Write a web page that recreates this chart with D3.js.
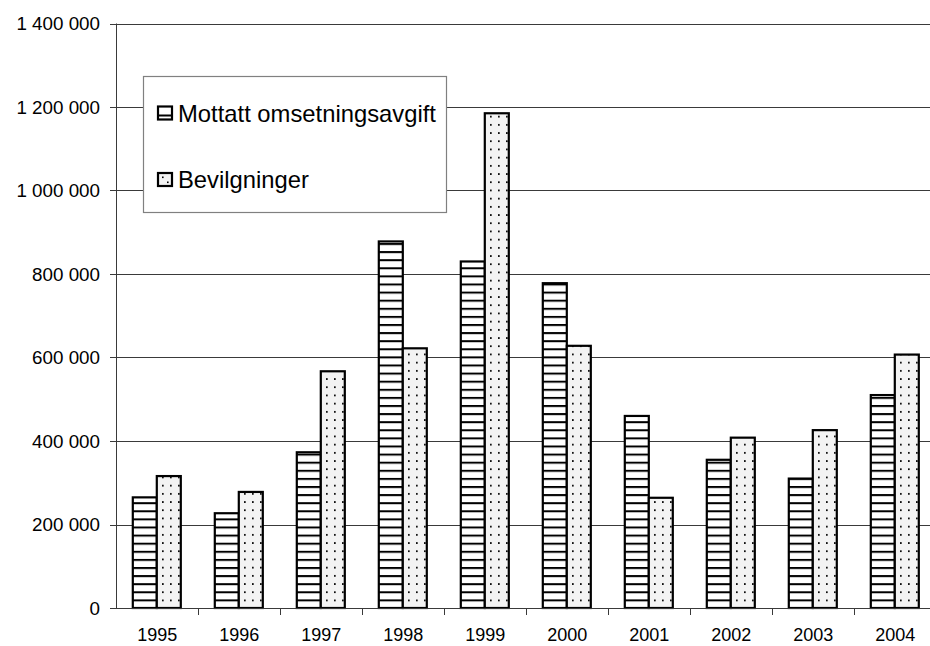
<!DOCTYPE html>
<html>
<head>
<meta charset="utf-8">
<script src="https://cdn.jsdelivr.net/npm/d3@7"></script>
<style>
  html, body { margin: 0; padding: 0; background: #fff; overflow: hidden; }
  svg { display: block; font-family: "Liberation Sans", Arial, sans-serif; }
</style>
</head>
<body>
<svg id="chart" width="930" height="646"></svg>
<script>
const years = ["1995","1996","1997","1998","1999","2000","2001","2002","2003","2004"];
const seriesNames = ["Mottatt omsetningsavgift", "Bevilgninger"];
const mottatt = [265000, 227000, 373000, 878000, 830000, 778000, 460000, 355000, 310000, 510000];
const bevilgninger = [316000, 278000, 567000, 622000, 1185000, 628000, 264000, 408000, 426000, 607000];
const yTicks = [0, 200000, 400000, 600000, 800000, 1000000, 1200000, 1400000];

const svg = d3.select("#chart");
const defs = svg.append("defs");

// Horizontal hatch pattern
const ph = defs.append("pattern").attr("id", "hatch")
  .attr("patternUnits", "userSpaceOnUse").attr("width", 8).attr("height", 8.1);
ph.append("rect").attr("width", 8).attr("height", 8.1).attr("fill", "#fff");
ph.append("rect").attr("x", 0).attr("y", 0).attr("width", 8).attr("height", 2).attr("fill", "#000");

// Dotted pattern
const pd = defs.append("pattern").attr("id", "dots")
  .attr("patternUnits", "userSpaceOnUse").attr("width", 8).attr("height", 8.2)
  .attr("x", 2.7).attr("y", 0);
pd.append("rect").attr("width", 8).attr("height", 8.2).attr("fill", "#f3f3f3");
pd.append("rect").attr("x", 3).attr("y", 1).attr("width", 1.7).attr("height", 1.7).attr("fill", "#000");

const seriesData = [mottatt, bevilgninger];
const fills = ["url(#hatch)", "url(#dots)"];

const x0 = d3.scaleBand().domain(years).range([116.3, 936.3]).paddingInner(0).paddingOuter(0);
const x1 = d3.scaleBand().domain([0, 1]).range([16.5, 64.5]);
const y = d3.scaleLinear().domain([0, 1400000]).range([608, 23.5]);

const fmt = v => d3.format(",")(v).replace(/,/g, " ");

// Gridlines
svg.append("g").selectAll("line").data(yTicks.filter(d => d > 0)).join("line")
  .attr("x1", 116).attr("x2", 930)
  .attr("y1", d => Math.round(y(d)) + 0.5).attr("y2", d => Math.round(y(d)) + 0.5)
  .attr("stroke", "#3a3a3a").attr("stroke-width", 1);

// Bars
const groups = svg.append("g").selectAll("g").data(years).join("g")
  .attr("transform", d => `translate(${x0(d)},0)`);
groups.selectAll("rect").data((d, i) => seriesData.map((s, k) => ({k, v: s[i]}))).join("rect")
  .attr("x", d => x1(d.k))
  .attr("width", x1.bandwidth())
  .attr("y", d => y(d.v))
  .attr("height", d => y(0) - y(d.v))
  .attr("fill", d => fills[d.k])
  .attr("stroke", "#000").attr("stroke-width", 2.2);

// Y axis
const yAxis = svg.append("g");
yAxis.append("line").attr("x1", 116.5).attr("x2", 116.5).attr("y1", y(1400000)).attr("y2", 609)
  .attr("stroke", "#3a3a3a").attr("stroke-width", 1);
yAxis.selectAll("line.tick").data(yTicks).join("line").attr("class", "tick")
  .attr("x1", 110).attr("x2", 116.5)
  .attr("y1", d => Math.round(y(d)) + 0.5).attr("y2", d => Math.round(y(d)) + 0.5)
  .attr("stroke", "#3a3a3a");
yAxis.selectAll("text").data(yTicks).join("text")
  .attr("x", 100).attr("y", d => y(d)).attr("dy", "0.36em")
  .attr("text-anchor", "end").attr("font-size", "18.8px").attr("fill", "#000")
  .text(d => fmt(d));

// X axis
const xAxis = svg.append("g");
xAxis.append("line").attr("x1", 116).attr("x2", 930).attr("y1", 608.5).attr("y2", 608.5)
  .attr("stroke", "#3a3a3a");
xAxis.selectAll("line.tick").data(years.slice(1)).join("line").attr("class", "tick")
  .attr("x1", d => Math.round(x0(d)) + 0.5).attr("x2", d => Math.round(x0(d)) + 0.5)
  .attr("y1", 608.5).attr("y2", 615)
  .attr("stroke", "#3a3a3a");
xAxis.selectAll("text").data(years).join("text")
  .attr("x", d => x0(d) + x0.bandwidth() / 2).attr("y", 635).attr("dy", "0.36em")
  .attr("text-anchor", "middle").attr("font-size", "18px").attr("fill", "#000")
  .text(d => d);

// Legend
const legend = svg.append("g");
legend.append("rect").attr("x", 143.5).attr("y", 76.5).attr("width", 303).attr("height", 136)
  .attr("fill", "#fff").attr("stroke", "#808080").attr("stroke-width", 1.2);
const legY = [113, 179.5];
seriesNames.forEach((name, i) => {
  legend.append("rect").attr("x", 158).attr("y", legY[i] - 6.5).attr("width", 14).attr("height", 13)
    .attr("fill", i === 0 ? "#fff" : "#f3f3f3").attr("stroke", "#000").attr("stroke-width", 2.2);
  if (i === 0) {
    legend.append("line").attr("x1", 158).attr("x2", 172).attr("y1", legY[i] + 2.5).attr("y2", legY[i] + 2.5)
      .attr("stroke", "#000").attr("stroke-width", 2);
  } else {
    legend.append("rect").attr("x", 162).attr("y", legY[i] - 3).attr("width", 1.6).attr("height", 1.6).attr("fill", "#000");
    legend.append("rect").attr("x", 167).attr("y", legY[i] + 2).attr("width", 1.6).attr("height", 1.6).attr("fill", "#000");
  }
  legend.append("text").attr("x", 178).attr("y", legY[i]).attr("dy", "0.36em")
    .attr("font-size", "23.8px").attr("fill", "#000").text(name);
});
</script>
</body>
</html>
